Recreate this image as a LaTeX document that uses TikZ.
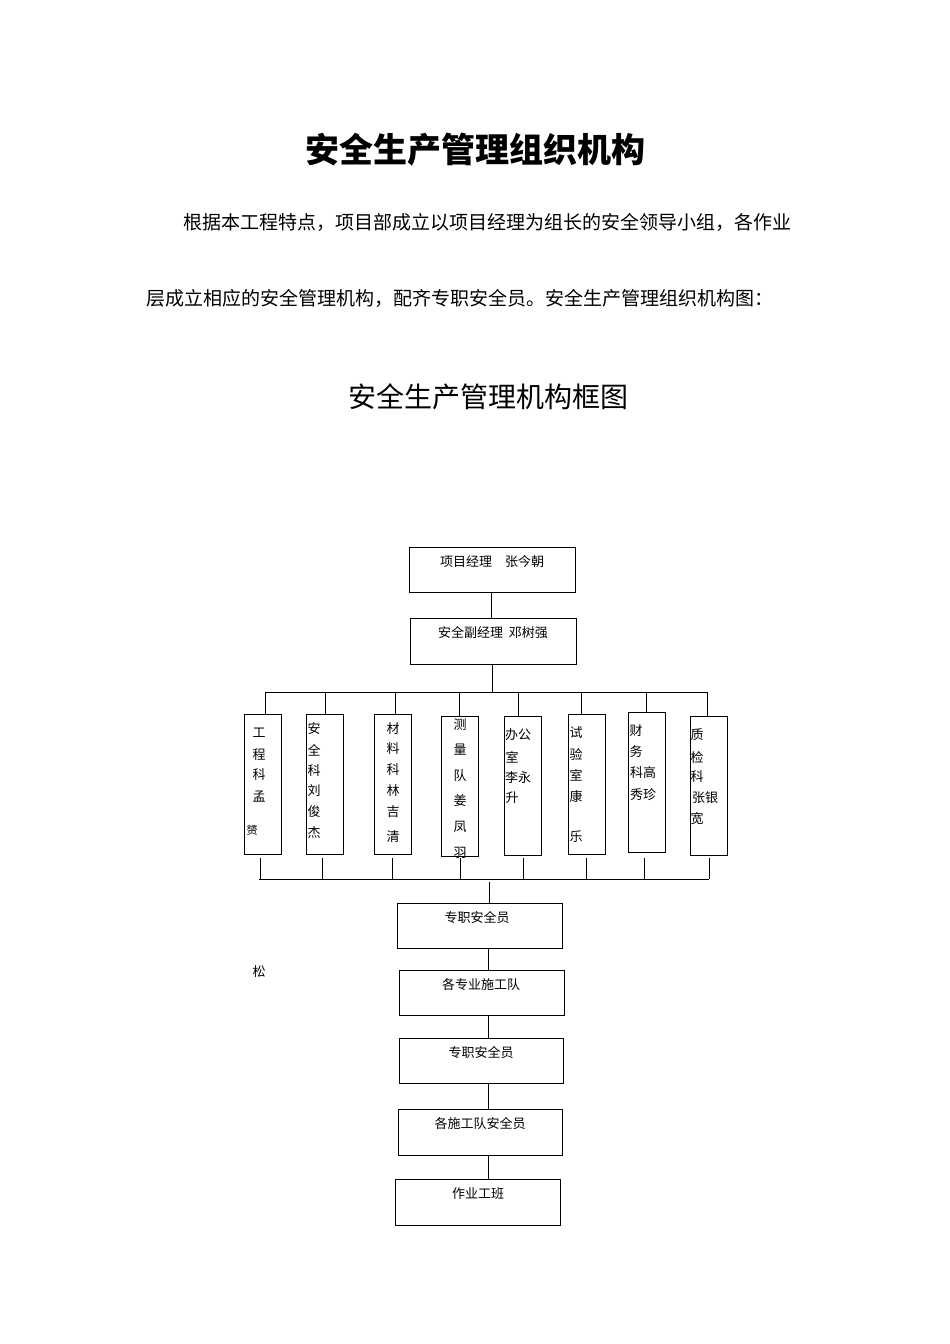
\documentclass[tikz,border=0pt]{standalone}
\usepackage{fontspec}
\setmainfont{Noto Sans CJK SC}
\newfontfamily\cjk{Noto Sans CJK SC}
\begin{document}
\begin{tikzpicture}[x=1pt,y=-1pt,
  bx/.style={draw,line width=0.8pt},
  ln/.style={line width=0.8pt},
  lbl/.style={font=\fontsize{13}{13}\selectfont,inner sep=0pt,anchor=north},
  ch/.style={font=\fontsize{13}{13}\selectfont,inner sep=0pt}]
\fill[white] (0,0) rectangle (950,1344);
\node[font=\fontsize{34}{34}\selectfont\bfseries] (t) at (475,150) {安全生产管理组织机构};
\node[font=\fontsize{19}{19}\selectfont,anchor=west] (p1) at (180,222) {根据本工程特点，项目部成立以项目经理为组长的安全领导小组，各作业};
\node[font=\fontsize{19}{19}\selectfont,anchor=west] (p2) at (143,298) {层成立相应的安全管理机构，配齐专职安全员。安全生产管理组织机构图：};
\node[font=\fontsize{28}{28}\selectfont] (st) at (488,397) {安全生产管理机构框图};
% top boxes
\draw[bx] (409,547) rectangle (575,592);
\node[lbl] (a) at (492,555) {项目经理\quad 张今朝};
\draw[bx] (410,618) rectangle (576,664);
\node[lbl] (b) at (493,626) {安全副经理\ \ 邓树强};
\coordinate (a1) at (491,592); \coordinate (b0) at (491,618);
\draw[ln] (a1) -- (b0);
\coordinate (b1) at (492,664); \coordinate (bus) at (492,692);
\draw[ln] (b1) -- (bus);
\draw[ln] (265,692) -- (707,692);
% small boxes
\foreach \xa/\ya/\yb/\dx in {244/714/854/265,306/714/854/325,374/714/854/395,441/716/856/459,504/716/855/518,568/714/854/581,628/712/852/646,690/716/855/707}{
  \draw[bx] (\xa,\ya) rectangle (\xa+37,\yb);
  \draw[ln] (\dx,692) -- (\dx,\ya);
}
\foreach \x/\y/\t in {259/733/工,259/755/程,259/775/科,259/797/孟,
 314/729/安,314/750/全,314/771/科,314/791/刘,314/812/俊,314/833/杰,
 393/729/材,393/749/料,393/770/科,393/791/林,393/812/吉,393/837/清,
 460/725/测,460/750/量,460/776/队,460/801/姜,460/827/凤,460/853/羽,
 518/735/办公,512/757/室,518/778/李永,512/798/升,
 576/733/试,576/754/验,576/775/室,576/796/康,576/837/乐,
 636/731/财,636/752/务,643/773/科高,643/795/秀珍,
 697/735/质,697/757/检,697/777/科,705/798/张银,697/819/宽}
  \node[ch] at (\x,\y) {\t};
\node[ch,font=\fontsize{11}{11}\selectfont] at (252,830) {赟};
% bottom bus
\foreach \x in {260,322,392,460,523,586,644,709}{ \draw[ln] (\x,858) -- (\x,879); }
\draw[ln] (259,879) -- (709,879);
% lower chain
\draw[bx] (397,903) rectangle (562,948); \node[lbl] (c1) at (477,911) {专职安全员};
\draw[bx] (399,970) rectangle (564,1015); \node[lbl] (c2) at (481,978) {各专业施工队};
\draw[bx] (399,1038) rectangle (563,1083); \node[lbl] (c3) at (481,1046) {专职安全员};
\draw[bx] (398,1109) rectangle (562,1155); \node[lbl] (c4) at (480,1117) {各施工队安全员};
\draw[bx] (395,1179) rectangle (560,1225); \node[lbl] (c5) at (478,1187) {作业工班};
\draw[ln] (489,882) -- (489,903);
\draw[ln] (488,948) -- (488,970);
\draw[ln] (488,1015) -- (488,1038);
\draw[ln] (488,1083) -- (488,1109);
\draw[ln] (488,1155) -- (488,1179);
\node[ch] (s) at (259,972) {松};
\end{tikzpicture}
\end{document}
